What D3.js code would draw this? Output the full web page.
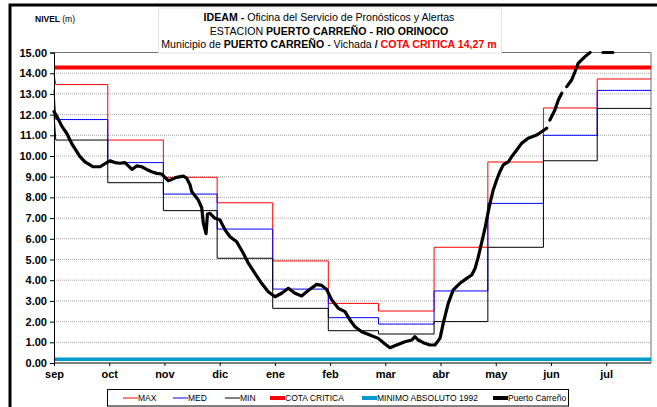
<!DOCTYPE html>
<html>
<head>
<meta charset="utf-8">
<script src="https://cdn.jsdelivr.net/npm/d3@7"></script>
<style>
  html, body { margin: 0; padding: 0; background: #fff; }
  svg { display: block; font-family: "Liberation Sans", Arial, sans-serif; }
</style>
</head>
<body>
<svg id="chart" width="657" height="407"></svg>
<script>
// Month labels on the x axis (hydrological year starting in September)
const monthLabels = ["sep", "oct", "nov", "dic", "ene", "feb", "mar", "abr", "may", "jun", "jul"];

// Monthly reference levels (m): historical maximum, mean and minimum
const maxStart = 13.95, medStart = 13.2, minStart = 12.0;
const maxLevels = [13.45, 10.77, 8.97, 7.74, 4.93, 2.88, 2.51, 5.59, 9.71, 12.32, 13.72];
const medLevels = [11.76, 9.68, 8.16, 6.47, 3.57, 2.19, 1.88, 3.48, 7.71, 11.0, 13.17];
const minLevels = [10.77, 8.71, 7.36, 5.06, 2.64, 1.56, 1.40, 2.0, 5.59, 9.77, 12.30];

// Threshold levels (m)
const cotaCritica = 14.27;
const minimoAbsoluto1992 = 0.18;

// Daily readings at Puerto Carreño: days since 1 September, level in m (null = no reading)
const pcDays = [0, 1.7, 4.5, 7.1, 9.9, 14.5, 17.3, 21.9, 25.7, 29.4, 31.2, 34, 36.8, 39.6, 43.5, 46.1, 48.9,
  51.7, 54.5, 57.3, 60.1, 61.9, 63.7, 65.6, 68.4, 72.1, 74, 75.9, 76.8, 80.5, 82.4, 83.3, 84.8, 85.6,
  87, 89.8, 92.6, 95.4, 98.2, 101.9, 105.6, 108.4, 112.1, 115.8, 119.5, 123.3, 127, 130.7, 134.4,
  138.1, 141.8, 146.5, 149.3, 152.1, 154.9, 158.6, 162.3, 165.1, 167.9, 171.6, 176.2, 180.9, 184.6,
  187.4, 191.1, 195.8, 199.5, 201.3, 203.2, 206, 209.7, 212.5, 215.3, 217.1, 219.9, 222.7, 226.4,
  230.2, 233, 234.8, 236.6, 238.5, 240.4, 242.2, 243.2, 245, 246.9, 248.7, 250.6, 253.4, 255.3,
  258.1, 260.8, 264.5, 269.2, 272, 274.8, 275.7, 276.6, 279.4, 281.3, 283.2, 284.6, 286, 288.7,
  290.6, 292.4, 296.2, 299, 302.6, 306.2, 311.8];
const pcLevels = [12.14, 11.9, 11.42, 11.1, 10.6, 9.97, 9.72, 9.48, 9.48, 9.68, 9.77, 9.68, 9.65, 9.68, 9.35, 9.52, 9.48,
  9.35, 9.24, 9.16, 9.13, 8.97, 8.81, 8.87, 8.97, 9.03, 8.93, 8.6, 8.28, 7.87, 7.5, 6.75, 6.25, 7.2,
  7.23, 6.99, 6.91, 6.43, 6.1, 5.86, 5.3, 4.82, 4.33, 3.85, 3.44, 3.2, 3.37, 3.61, 3.37,
  3.24, 3.5, 3.8, 3.75, 3.55, 3.05, 2.64, 2.48, 2.08, 1.75, 1.51, 1.35, 1.19, 0.92,
  0.74, 0.87, 1.03, 1.11, 1.27, 1.11, 0.98, 0.87, 0.87, 1.19, 1.91, 2.88, 3.53, 3.85,
  4.09, 4.25, 4.55, 5.1, 5.8, 6.5, 7.3, 7.71, 8.36, 8.84, 9.24, 9.57, 9.72, 9.97,
  10.29, 10.61, 10.86, 11.01, 11.17, 11.34, null, 11.74, 12.22, 12.71, 13.03, null, 13.35, 13.67,
  14.07, 14.48, 14.8, 15.0, null, 15.0, 15.0];

// Y axis ticks
const yTicks = d3.range(0, 16, 1);

// Legend entries
const legendItems = [
  { label: "MAX", color: "#ff0000", width: 1 },
  { label: "MED", color: "#0000ff", width: 1 },
  { label: "MIN", color: "#000000", width: 1 },
  { label: "COTA CRITICA", color: "#ff0000", width: 4 },
  { label: "MINIMO ABSOLUTO 1992", color: "#0099cc", width: 4 },
  { label: "Puerto Carreño", color: "#000000", width: 4 }
];

const svg = d3.select("#chart");
const plot = { left: 54, right: 651, top: 52.5, bottom: 363 };

const x = d3.scaleLinear().domain([0, 333]).range([plot.left, plot.right]);
const y = d3.scaleLinear().domain([0, 15]).range([plot.bottom, plot.top]);
// Month labels are spaced evenly along the axis
const xMonth = d3.scalePoint().domain(monthLabels).range([x(0), x(308)]);

// Calendar day offsets of each month start
const origin = new Date(Date.UTC(2012, 8, 1));
const monthStart = d3.range(monthLabels.length + 1).map(i => d3.utcDay.count(origin, d3.utcMonth.offset(origin, i)));

// Outer frame
svg.append("rect").attr("x", 10).attr("y", 5).attr("width", 660).attr("height", 420)
  .attr("fill", "none").attr("stroke", "#000").attr("stroke-width", 3);

// Gridlines
svg.append("g").selectAll("line").data(yTicks.filter(v => v > 0 && v < 15)).join("line")
  .attr("x1", plot.left).attr("x2", plot.right)
  .attr("y1", d => y(d)).attr("y2", d => y(d))
  .attr("stroke", "#a8a8a8").attr("stroke-width", 1).attr("stroke-dasharray", "1,1");

// Plot border (top and right)
svg.append("path")
  .attr("d", `M${plot.left},${y(15)}H${plot.right}V${plot.bottom}`)
  .attr("fill", "none").attr("stroke", "#707070").attr("stroke-width", 1);

// Horizontal thresholds
svg.append("line").attr("x1", plot.left).attr("x2", plot.right)
  .attr("y1", y(minimoAbsoluto1992)).attr("y2", y(minimoAbsoluto1992))
  .attr("stroke", "#0099cc").attr("stroke-width", 3.5);
svg.append("line").attr("x1", plot.left).attr("x2", plot.right)
  .attr("y1", y(cotaCritica)).attr("y2", y(cotaCritica))
  .attr("stroke", "#ff0000").attr("stroke-width", 4);

// Monthly step series
function stepPoints(start, levels) {
  const pts = [[0, start]];
  levels.forEach((v, i) => {
    const a = i === 0 ? 1 : monthStart[i];
    const b = i === levels.length - 1 ? 333 : monthStart[i + 1];
    pts.push([a, v], [b, v]);
  });
  return pts;
}
const lineXY = d3.line().x(d => x(d[0])).y(d => y(d[1]));
[[maxStart, maxLevels, "#ff0000"], [medStart, medLevels, "#0000ff"], [minStart, minLevels, "#000000"]]
  .forEach(([s, lv, c]) => {
    svg.append("path").attr("d", lineXY(stepPoints(s, lv)))
      .attr("fill", "none").attr("stroke", c).attr("stroke-width", 1);
  });

// Daily levels at Puerto Carreño
const pcData = pcDays.map((d, i) => [d, pcLevels[i]]);
svg.append("path")
  .attr("d", d3.line().defined(d => d[1] !== null).x(d => x(d[0])).y(d => y(d[1])).curve(d3.curveLinear)(pcData))
  .attr("fill", "none").attr("stroke", "#000").attr("stroke-width", 3.2)
  .attr("stroke-linejoin", "round").attr("stroke-linecap", "round");

// Axes
const yAxis = svg.append("g").attr("transform", `translate(${plot.left},0)`)
  .call(d3.axisLeft(y).tickValues(yTicks).tickFormat(d3.format(".2f")).tickSize(4).tickPadding(3));
yAxis.select(".domain").attr("stroke", "#000");
yAxis.selectAll("text").attr("font-size", 11).attr("font-weight", "bold").attr("fill", "#000")
  .attr("font-family", "Liberation Sans, Arial, sans-serif");

const xAxis = svg.append("g").attr("transform", `translate(0,${plot.bottom})`)
  .call(d3.axisBottom(xMonth).tickSize(3).tickPadding(4));
xAxis.select(".domain").remove();
xAxis.selectAll("text").attr("font-size", 11).attr("font-weight", "bold").attr("fill", "#000")
  .attr("font-family", "Liberation Sans, Arial, sans-serif");
svg.append("line").attr("x1", plot.left).attr("x2", plot.right)
  .attr("y1", plot.bottom).attr("y2", plot.bottom).attr("stroke", "#000");

// Title box
svg.append("rect").attr("x", 158.5).attr("y", 8).attr("width", 343).attr("height", 45)
  .attr("fill", "#fff").attr("stroke", "#dcdcdc").attr("stroke-width", 0.8);

const title = svg.append("g").attr("font-size", 10.6).attr("text-anchor", "middle").attr("fill", "#000");
const t1 = title.append("text").attr("x", 329).attr("y", 21);
t1.append("tspan").attr("font-weight", "bold").text("IDEAM - ");
t1.append("tspan").text("Oficina del Servicio de Pronósticos y Alertas");
const t2 = title.append("text").attr("x", 329).attr("y", 34.5);
t2.append("tspan").text("ESTACION ");
t2.append("tspan").attr("font-weight", "bold").text("PUERTO CARREÑO - RIO ORINOCO");
const t3 = title.append("text").attr("x", 329).attr("y", 48);
t3.append("tspan").text("Municipio de ");
t3.append("tspan").attr("font-weight", "bold").text("PUERTO CARREÑO");
t3.append("tspan").text(" - Vichada ");
t3.append("tspan").attr("font-weight", "bold").text("/ ");
t3.append("tspan").attr("font-weight", "bold").attr("fill", "#ff0000").text("COTA CRITICA 14,27 m");

// Axis title
const yt = svg.append("text").attr("x", 35).attr("y", 22).attr("font-size", 8.5);
yt.append("tspan").attr("font-weight", "bold").text("NIVEL ");
yt.append("tspan").text("(m)");

// Legend
const legend = svg.append("g");
legend.append("rect").attr("x", 107.5).attr("y", 389.5).attr("width", 461).attr("height", 16.5)
  .attr("fill", "#fff").attr("stroke", "#000").attr("stroke-width", 1);
const legendX = [123, 173, 225, 270, 362, 493];
legendItems.forEach((it, i) => {
  const g = legend.append("g").attr("transform", `translate(${legendX[i]},398)`);
  g.append("line").attr("x1", 0).attr("x2", 15).attr("y1", 0).attr("y2", 0)
    .attr("stroke", it.color).attr("stroke-width", it.width);
  g.append("text").attr("x", 15).attr("y", 3).attr("font-size", 8.5).attr("fill", "#000").text(it.label);
});
</script>
</body>
</html>
